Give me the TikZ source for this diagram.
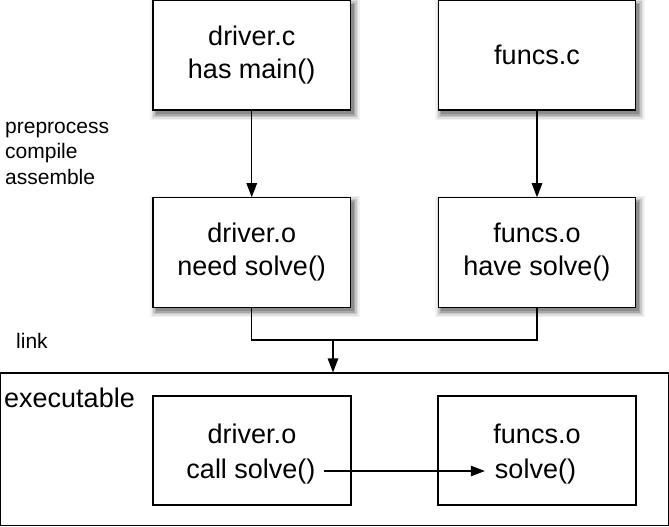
\documentclass[tikz,border=0pt]{standalone}
\usepackage{fontspec}
\setmainfont{Liberation Sans}
\usetikzlibrary{arrows.meta}

\definecolor{shadeA}{gray}{0.95}
\definecolor{shadeB}{gray}{0.88}
\definecolor{shadeC}{gray}{0.78}
\definecolor{shadeD}{gray}{0.66}
\definecolor{shadeE}{gray}{0.55}

% graded drop shadow for a 197.5 x 109.5 box centred at (#1,#2)
\newcommand\stageshadow[2]{%
  \fill[shadeA] ({#1+3-98.75-6}, {#2+4-54.75-6}) rectangle ({#1+3+98.75+6}, {#2+4+54.75+6});
  \fill[shadeB] ({#1+3-98.75-4.5}, {#2+4-54.75-4.5}) rectangle ({#1+3+98.75+4.5}, {#2+4+54.75+4.5});
  \fill[shadeC] ({#1+3-98.75-3}, {#2+4-54.75-3}) rectangle ({#1+3+98.75+3}, {#2+4+54.75+3});
  \fill[shadeD] ({#1+3-98.75-1.5}, {#2+4-54.75-1.5}) rectangle ({#1+3+98.75+1.5}, {#2+4+54.75+1.5});
  \fill[shadeE] ({#1+3-98.75}, {#2+4-54.75}) rectangle ({#1+3+98.75}, {#2+4+54.75});
}

\tikzset{
  stagebox/.style={draw, line width=1.1pt, fill=white, inner sep=0pt,
    minimum width=197.5pt, minimum height=109.5pt, align=center,
    font=\fontsize{27}{33}\selectfont},
  objbox/.style={draw, line width=1.1pt, fill=white, inner sep=0pt,
    minimum width=198pt, minimum height=109pt},
  boxtext/.style={inner sep=0pt, font=\fontsize{27}{33}\selectfont},
  sidelabel/.style={inner sep=0pt, align=left, font=\fontsize{21}{25.5}\selectfont},
  flow/.style={line width=1.1pt, -{Triangle[length=14pt,width=10.5pt]}},
  wire/.style={line width=1.1pt}
}

\begin{document}
\begin{tikzpicture}[x=1pt, y=-1pt]
  \useasboundingbox (0,0) rectangle (669,527);

  % shadows first, so the white boxes sit on top of them
  \stageshadow{251.75}{55.25}
  \stageshadow{537}{55.25}
  \stageshadow{251.75}{252.5}
  \stageshadow{537}{252.5}

  % source files
  \node[stagebox] (dc) at (251.75,55.25) {driver.c\\has main()};
  \node[stagebox] (fc) at (537,55.25) {funcs.c};

  % object files
  \node[stagebox] (do) at (251.75,252.5) {driver.o\\need solve()};
  \node[stagebox] (fo) at (537,252.5) {funcs.o\\have solve()};

  \draw[flow] (dc) -- (do);
  \draw[flow] (fc) -- (fo);

  \node[sidelabel, anchor=base west] (pre) at (5,184) {preprocess\\compile\\assemble};
  \node[sidelabel, anchor=base west] (lnk) at (16,348) {link};

  % linked executable
  \node[draw, line width=1.1pt, inner sep=0pt, minimum width=668pt,
        minimum height=152.5pt] (exe) at (334.5,449.25) {};
  \node[boxtext, anchor=base west] (exelbl) at (4,407) {executable};

  \coordinate (j) at (333,340);
  \draw[wire] (do.south) -- (do.south |- j) -- (fo.south |- j) -- (fo.south);
  \draw[flow] (j) -- (j |- exe.north);

  \node[objbox] (edo) at (252,450.5) {};
  \node[objbox] (efo) at (537,450.5) {};

  \node[boxtext, anchor=base] (edo1) at (252,443) {driver.o};
  \node[boxtext, anchor=base] (edo2) at (251,478) {call solve()};
  \node[boxtext, anchor=base] (efo1) at (537,443) {funcs.o};
  \node[boxtext, anchor=base] (efo2) at (535.5,478) {solve()};

  \draw[flow, shorten <=8pt, shorten >=10pt] (edo2.east) -- (efo2.west);
\end{tikzpicture}
\end{document}
